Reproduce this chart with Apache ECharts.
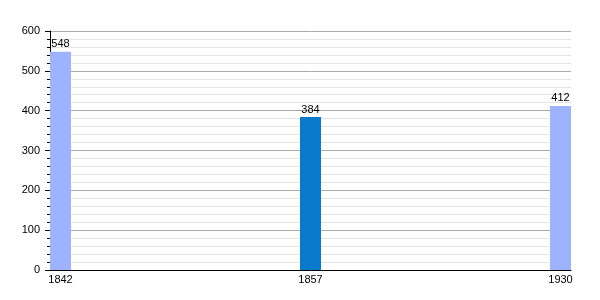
<!DOCTYPE html>
<html><head><meta charset="utf-8">
<script src="https://cdn.jsdelivr.net/npm/echarts@6/dist/echarts.min.js"></script>
<style>html,body{margin:0;padding:0;background:#fff}#c{width:600px;height:300px}</style>
</head><body><div id="c"></div>
<script>
const years = ['1842', '1857', '1930'];
const values = [548, 384, 412];
const barColors = ['#9db3ff', '#0a7acc', '#9db3ff'];
const yTicks = [0, 100, 200, 300, 400, 500, 600];

const chart = echarts.init(document.getElementById('c'), null, {renderer: 'canvas'});
const font = 'Liberation Sans';
chart.setOption({
  animation: false,
  grid: {left: 50, right: 29, top: 31, bottom: 30, containLabel: false},
  xAxis: {
    type: 'value', min: -0.042, max: 2.042,
    axisLine: {show: true, onZero: false, lineStyle: {color: '#000', width: 1}},
    axisTick: {show: false},
    splitLine: {show: false},
    axisLabel: {
      customValues: years.map((y, i) => i),
      formatter: v => years[Math.round(v)] || '',
      color: '#000', fontFamily: font, fontSize: 11, margin: 4
    }
  },
  yAxis: {
    type: 'value', min: yTicks[0], max: yTicks[yTicks.length - 1], interval: 100,
    axisLine: {show: true, onZero: false, lineStyle: {color: '#000', width: 1}},
    axisTick: {show: true, length: 5, lineStyle: {color: '#000'}},
    minorTick: {show: true, splitNumber: 5, length: 3, lineStyle: {color: '#000'}},
    splitLine: {show: true, lineStyle: {color: '#aaaaaa', width: 1}},
    minorSplitLine: {show: true, lineStyle: {color: '#e4e4e4', width: 1}},
    axisLabel: {color: '#000', fontFamily: font, fontSize: 11, margin: 10}
  },
  series: [{
    type: 'bar',
    barWidth: 21,
    data: values.map((v, i) => ({value: [i, v], itemStyle: {color: barColors[i]}})),
    label: {show: true, position: 'top', distance: 2, color: '#000', fontFamily: font, fontSize: 11,
      formatter: p => p.value[1]}
  }]
});
</script></body></html>
